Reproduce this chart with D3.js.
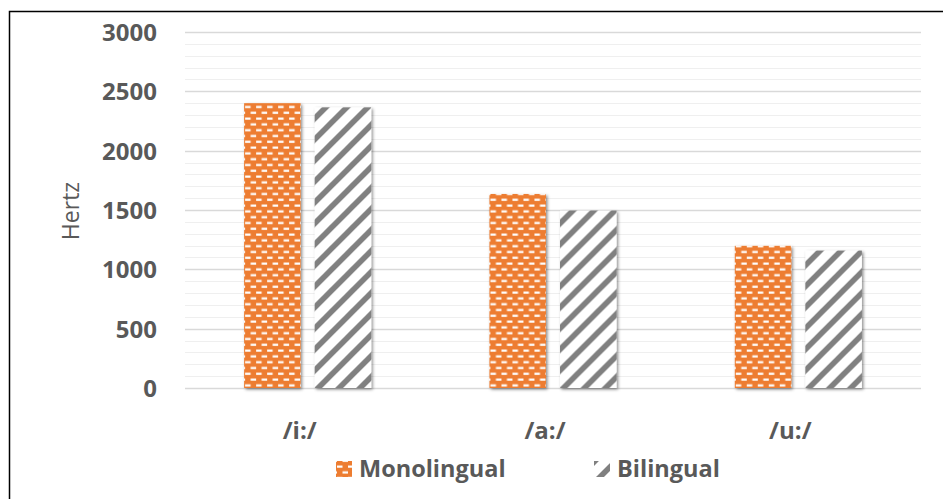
<!DOCTYPE html>
<html>
<head>
<meta charset="utf-8">
<script src="https://cdn.jsdelivr.net/npm/d3@7"></script>
<style>
  html, body { margin: 0; padding: 0; background: #fff; }
  svg { display: block; }
  text { font-family: "Open Sans", sans-serif; }
</style>
</head>
<body>
<svg id="chart" width="943" height="499"></svg>
<script>
const categories = ["/i:/", "/a:/", "/u:/"];
const seriesNames = ["Monolingual", "Bilingual"];
const monolingual = [2400, 1635, 1198];
const bilingual = [2365, 1495, 1158];
const yTicks = [0, 500, 1000, 1500, 2000, 2500, 3000];
const yLabel = "Hertz";

const svg = d3.select("#chart");
const plot = { left: 185, right: 921, top: 32, bottom: 388 };

const defs = svg.append("defs");
// Orange brick/dash pattern
const pMono = defs.append("pattern").attr("id", "pMono")
  .attr("patternUnits", "userSpaceOnUse").attr("width", 11).attr("height", 11.6);
pMono.append("rect").attr("width", 11).attr("height", 11.6).attr("fill", "#ED7D31");
pMono.append("rect").attr("x", 1).attr("y", 1.5).attr("width", 5.5).attr("height", 2.2).attr("fill", "#fff");
pMono.append("rect").attr("x", 6.5).attr("y", 7.3).attr("width", 5.5).attr("height", 2.2).attr("fill", "#fff");
pMono.append("rect").attr("x", -4.5).attr("y", 7.3).attr("width", 5.5).attr("height", 2.2).attr("fill", "#fff");
// Gray diagonal stripes
const pBi = defs.append("pattern").attr("id", "pBi")
  .attr("patternUnits", "userSpaceOnUse").attr("width", 21).attr("height", 21);
pBi.append("rect").attr("width", 21).attr("height", 21).attr("fill", "#fff");
pBi.append("path")
  .attr("d", "M0,21 L21,0 M-10.5,10.5 L10.5,-10.5 M10.5,31.5 L31.5,10.5")
  .attr("stroke", "#808080").attr("stroke-width", 5.6);

const shadow = defs.append("filter").attr("id", "shadow")
  .attr("x", "-20%").attr("y", "-20%").attr("width", "140%").attr("height", "140%");
shadow.append("feDropShadow").attr("dx", 1.5).attr("dy", 1.5)
  .attr("stdDeviation", 1.5).attr("flood-color", "#000").attr("flood-opacity", 0.45);

// Outer border
svg.append("rect").attr("x", 9.5).attr("y", 11.5).attr("width", 960).attr("height", 520)
  .attr("fill", "none").attr("stroke", "#000").attr("stroke-width", 1.5);

const y = d3.scaleLinear().domain([0, 3000]).range([plot.bottom, plot.top]);
const x0 = d3.scaleBand().domain(categories).range([plot.left, plot.right])
  .paddingInner(0.482).paddingOuter(0.241);
const x1 = d3.scaleBand().domain(seriesNames).range([0, x0.bandwidth()])
  .paddingInner(0.1986).paddingOuter(0);

// Minor gridlines
const minor = d3.range(100, 3000, 100).filter(v => v % 500 !== 0);
svg.append("g").selectAll("line").data(minor).join("line")
  .attr("x1", plot.left).attr("x2", plot.right)
  .attr("y1", d => Math.round(y(d)) + 0.5).attr("y2", d => Math.round(y(d)) + 0.5)
  .attr("stroke", "#efefef").attr("stroke-width", 1.2);
// Major gridlines
svg.append("g").selectAll("line").data(yTicks).join("line")
  .attr("x1", plot.left).attr("x2", plot.right)
  .attr("y1", d => Math.round(y(d)) + 0.5).attr("y2", d => Math.round(y(d)) + 0.5)
  .attr("stroke", "#d9d9d9").attr("stroke-width", 1.3);

// Y axis labels
const yAxis = d3.axisLeft(y).tickValues(yTicks).tickFormat(d3.format("d")).tickSize(0).tickPadding(0);
const gy = svg.append("g").attr("transform", `translate(157,0)`).call(yAxis);
gy.select(".domain").remove();
gy.selectAll("text").attr("fill", "#595959").attr("font-size", 24).attr("font-weight", "bold")
  .attr("font-family", "'Open Sans', sans-serif").attr("dy", "0.35em");

// Bars
const data = categories.map((c, i) => ({ cat: c, vals: [
  { s: "Monolingual", v: monolingual[i], fill: "url(#pMono)" },
  { s: "Bilingual", v: bilingual[i], fill: "url(#pBi)" }
]}));
const groups = svg.append("g").selectAll("g").data(data).join("g")
  .attr("transform", d => `translate(${x0(d.cat)},0)`);
groups.selectAll("rect").data(d => d.vals).join("rect")
  .attr("x", d => x1(d.s)).attr("width", x1.bandwidth())
  .attr("y", d => y(d.v)).attr("height", d => y(0) - y(d.v))
  .attr("fill", d => d.fill).attr("filter", "url(#shadow)");

// X axis labels
const xAxis = d3.axisBottom(x0).tickSize(0).tickPadding(0);
const gx = svg.append("g").attr("transform", `translate(-8,439)`).call(xAxis);
gx.select(".domain").remove();
gx.selectAll("text").attr("fill", "#595959").attr("font-size", 24).attr("font-weight", "bold")
  .attr("font-family", "'Open Sans', sans-serif").attr("dy", 0);

// Y title
svg.append("text").attr("transform", "translate(79,211) rotate(-90)")
  .attr("text-anchor", "middle").attr("fill", "#595959").attr("font-size", 23)
  .text(yLabel);

// Legend
const legend = [
  { name: seriesNames[0], fill: "url(#pMono)", x: 336 },
  { name: seriesNames[1], fill: "url(#pBi)", x: 594 }
];
const lg = svg.append("g").selectAll("g").data(legend).join("g")
  .attr("transform", d => `translate(${d.x},0)`);
lg.append("rect").attr("x", 0).attr("y", 461).attr("width", 16).attr("height", 16)
  .attr("fill", d => d.fill);
lg.append("text").attr("x", 23).attr("y", 477).attr("fill", "#595959")
  .attr("font-size", 23.5).attr("font-weight", "bold").text(d => d.name);
</script>
</body>
</html>
